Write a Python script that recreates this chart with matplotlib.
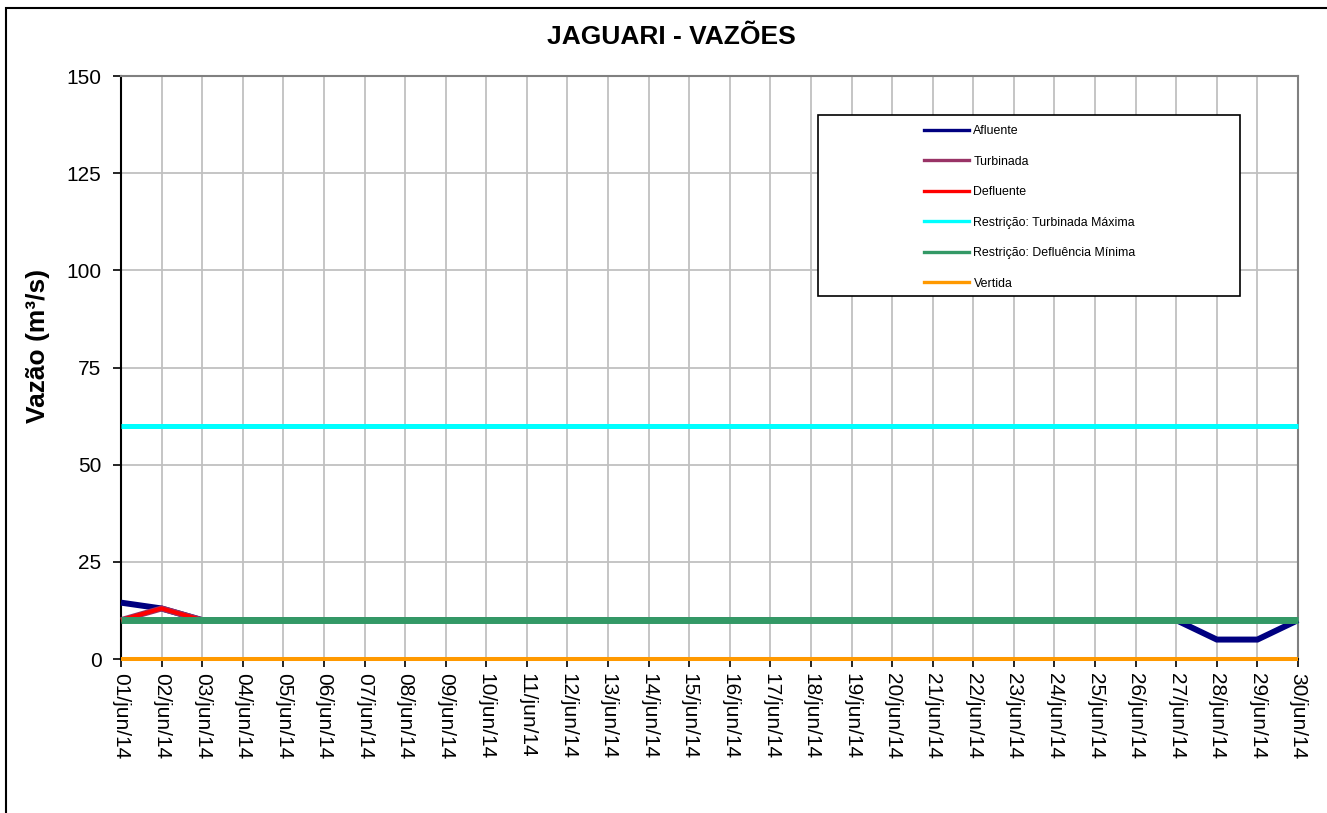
import matplotlib
matplotlib.use("Agg")
import matplotlib.pyplot as plt
from matplotlib.lines import Line2D
from matplotlib.patches import Rectangle

plt.rcParams['font.family'] = ['Liberation Sans', 'DejaVu Sans']

# === data ===
dias = [f"{d:02d}/jun/14" for d in range(1, 31)]
afluente = [14.5, 13] + [10] * 25 + [5, 5, 10]
turbinada = [10, 13] + [10] * 28
defluente = [10, 13] + [10] * 28
turb_max = [60] * 30
deflu_min = [10] * 30
vertida = [0] * 30

series = [
    ('Afluente', afluente, '#000080', 4.3),
    ('Turbinada', turbinada, '#993366', 4.3),
    ('Defluente', defluente, '#FF0000', 2.9),
    ('Restrição: Turbinada Máxima', turb_max, '#00FFFF', 3.6),
    ('Restrição: Defluência Mínima', deflu_min, '#339966', 5.0),
    ('Vertida', vertida, '#FF9900', 2.9),
]

# === plot ===
W, H = 1327, 813
fig = plt.figure(figsize=(W / 100, H / 100), dpi=100)
ax = fig.add_axes([121 / W, 1 - 659 / H, (1298 - 121) / W, (659 - 76) / H])

x = list(range(len(dias)))
for name, vals, color, lw in series:
    ax.plot(x, vals, color=color, lw=lw, solid_capstyle='butt', solid_joinstyle='miter',
            clip_on=False, zorder=3)

ax.set_xlim(0, len(dias) - 1)
ax.set_ylim(0, 150)
ax.set_yticks(range(0, 151, 25))
ax.set_xticks(x)
ax.set_xticklabels(dias, rotation=-90, fontsize=15)
ax.tick_params(axis='y', labelsize=15, direction='out', length=6, width=1.2, pad=8)
ax.tick_params(axis='x', direction='out', length=6, width=1.2, pad=4)
ax.grid(True, color='#C0C0C0', lw=1.3, zorder=0)
ax.set_axisbelow(True)
for s in ['left', 'bottom']:
    ax.spines[s].set_color('black')
    ax.spines[s].set_linewidth(1.5)
for s in ['top', 'right']:
    ax.spines[s].set_color('#808080')
    ax.spines[s].set_linewidth(1.5)

ax.set_ylabel('Vazão (m³/s)', fontsize=19, fontweight='bold')
ax.yaxis.set_label_coords(-0.060, 0.537)
fig.text(0.506, 1 - 37 / H, 'JAGUARI - VAZÕES', fontsize=19, fontweight='bold',
         ha='center', va='center')

# legend box drawn separately, entries without frame
ax.add_patch(Rectangle((0.592, 0.623), 0.359, 0.31, transform=ax.transAxes,
                       facecolor='white', edgecolor='black', lw=1.2, zorder=5))
handles = [Line2D([], [], color=c, lw=2.4) for _, _, c, _ in series]
leg = ax.legend(handles, [n for n, _, _, _ in series], loc='upper left',
                bbox_to_anchor=((924 - 121) / 1177, (659 - 125) / 583),
                frameon=False, fontsize=8.9, borderpad=0, borderaxespad=0,
                handlelength=3.6, handletextpad=0.4, labelspacing=1.5)
leg.set_zorder(6)

# outer chart border
fig.add_artist(Rectangle((6 / W, -0.05), 1.1, 1 - 8 / H + 0.05, transform=fig.transFigure,
                         facecolor='none', edgecolor='black', lw=1.5))

fig.savefig('out.png', dpi=100)
